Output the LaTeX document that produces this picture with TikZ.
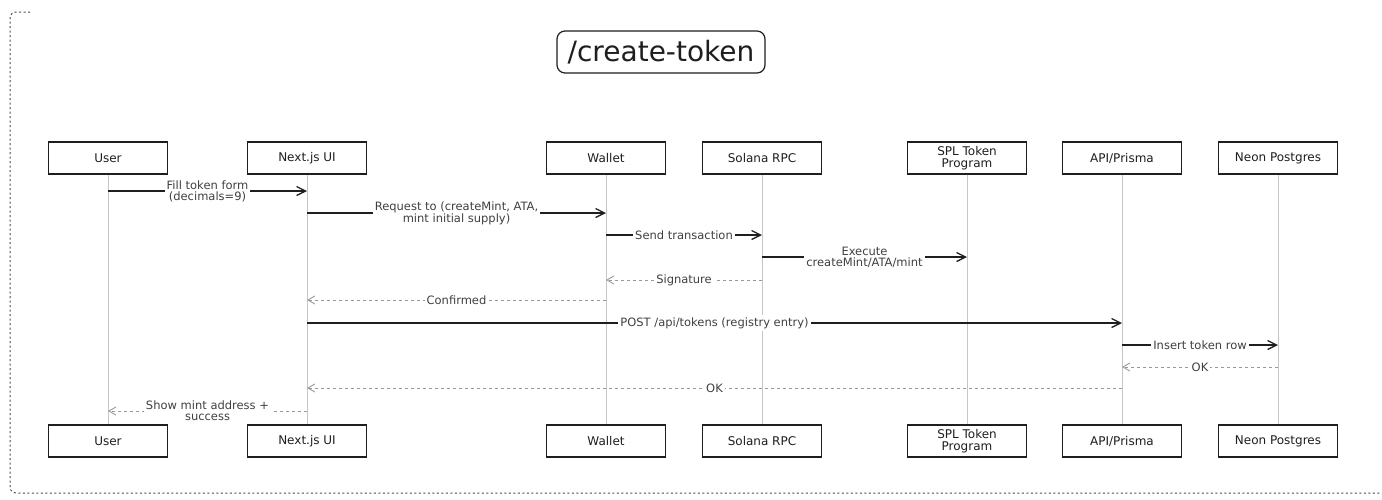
\documentclass[tikz,border=0pt]{standalone}
\usepackage{fontspec}
\setmainfont{DejaVu Sans}
\usetikzlibrary{shapes.geometric, arrows.meta}
\definecolor{ink}{HTML}{1E1E1E}
\tikzstyle{actor} = [rectangle, minimum width=119pt, minimum height=32pt, text centered, align=center, draw=ink, line width=1.2pt, fill=white, text=ink, font=\fontsize{12}{11.5}\selectfont]
\tikzstyle{title} = [rectangle, rounded corners=8pt, minimum width=208pt, minimum height=42pt, text centered, draw=ink, line width=1.2pt, fill=white, text=ink, font=\fontsize{28}{30}\selectfont]
\tikzstyle{lifeline} = [draw=gray!45, line width=0.8pt]
\tikzstyle{call} = [ink, line width=1.3pt, -{Straight Barb[length=9pt,width=9pt]}]
\tikzstyle{reply} = [gray!80, line width=0.9pt, dash pattern=on 3pt off 3pt, -{Straight Barb[length=7pt,width=8pt]}]
\tikzstyle{lbl} = [fill=white, inner sep=2pt, align=center, text=ink!85, font=\fontsize{11.5}{11}\selectfont]
\tikzstyle{frame} = [gray!60!black, line width=1pt, dash pattern=on 2pt off 2.5pt, rounded corners=6pt]

\begin{document}
\begin{tikzpicture}[x=1pt, y=1pt, node distance=150pt]
		\useasboundingbox (0,0) rectangle (1382,-499);
		\draw [frame] (30,-12) -- (10,-12) -- (10,-493) -- (1400,-493);

		\node [title] (head) at (661,-52) {/create-token};

		% participants, top row
		\node [actor] 								(user)		at (108,-158) {User};
		\node [actor, right of=user, node distance=199pt] 		(next)		{Next.js UI};
		\node [actor, right of=next, node distance=299pt] 		(wallet)	{Wallet};
		\node [actor, right of=wallet, node distance=156pt] 	(rpc)		{Solana RPC};
		\node [actor, right of=rpc, node distance=205pt] 		(spl)		{SPL Token\\Program};
		\node [actor, right of=spl, node distance=155pt] 		(api)		{API/Prisma};
		\node [actor, right of=api, node distance=156pt] 		(neon)		{Neon Postgres};

		% participants, bottom row
		\node [actor, below of=user, node distance=283pt] 		(userB)		{User};
		\node [actor, below of=next, node distance=283pt] 		(nextB)		{Next.js UI};
		\node [actor, below of=wallet, node distance=283pt] 	(walletB)	{Wallet};
		\node [actor, below of=rpc, node distance=283pt] 		(rpcB)		{Solana RPC};
		\node [actor, below of=spl, node distance=283pt] 		(splB)		{SPL Token\\Program};
		\node [actor, below of=api, node distance=283pt] 		(apiB)		{API/Prisma};
		\node [actor, below of=neon, node distance=283pt] 		(neonB)		{Neon Postgres};

		\draw [lifeline] (user) -- (userB);
		\draw [lifeline] (next) -- (nextB);
		\draw [lifeline] (wallet) -- (walletB);
		\draw [lifeline] (rpc) -- (rpcB);
		\draw [lifeline] (spl) -- (splB);
		\draw [lifeline] (api) -- (apiB);
		\draw [lifeline] (neon) -- (neonB);

		% messages
		\draw [call] (user |- 0,-191) -- node[lbl]{Fill token form\\(decimals=9)} 				(next |- 0,-191);
		\draw [call] (next |- 0,-213) -- node[lbl]{Request to (createMint, ATA,\\mint initial supply)} (wallet |- 0,-213);
		\draw [call] (wallet |- 0,-235) -- node[lbl]{Send transaction} 						(rpc |- 0,-235);
		\draw [call] (rpc |- 0,-257) -- node[lbl]{Execute\\createMint/ATA/mint} 				(spl |- 0,-257);
		\draw [reply] (rpc |- 0,-280) -- node[lbl]{Signature} 								(wallet |- 0,-280);
		\draw [reply] (wallet |- 0,-300) -- node[lbl]{Confirmed} 							(next |- 0,-300);
		\draw [call] (next |- 0,-323) -- node[lbl]{POST /api/tokens (registry entry)} 			(api |- 0,-323);
		\draw [call] (api |- 0,-345) -- node[lbl]{Insert token row} 							(neon |- 0,-345);
		\draw [reply] (neon |- 0,-367) -- node[lbl]{OK} 									(api |- 0,-367);
		\draw [reply] (api |- 0,-388) -- node[lbl]{OK} 										(next |- 0,-388);
		\draw [reply] (next |- 0,-411) -- node[lbl]{Show mint address +\\success} 				(user |- 0,-411);
	\end{tikzpicture}
\end{document}
